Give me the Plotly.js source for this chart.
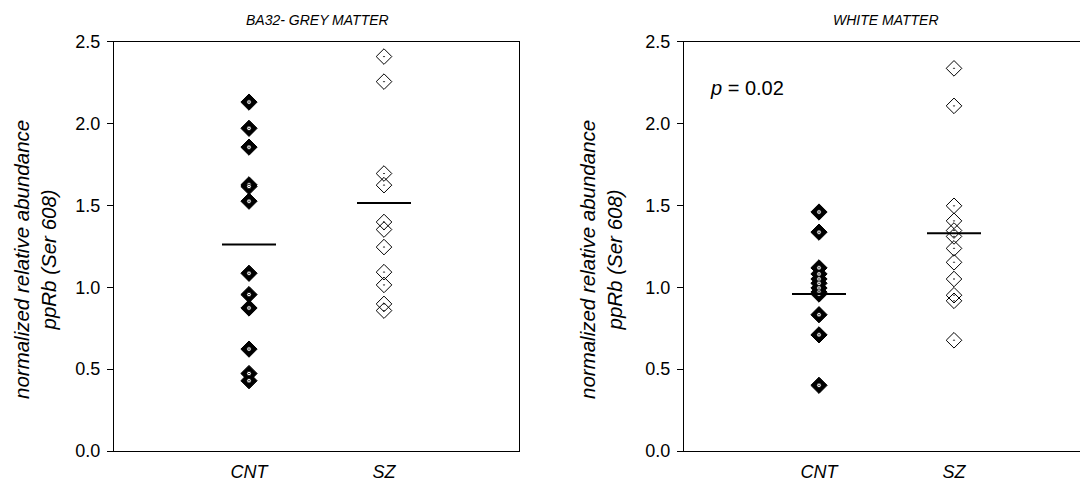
<!DOCTYPE html>
<html>
<head>
<meta charset="utf-8">
<script src="https://cdn.plot.ly/plotly-3.0.1.min.js"></script>
<style>
html,body{margin:0;padding:0;overflow:hidden;background:#fff;}
#chart{width:1100px;height:487px;}
</style>
</head>
<body>
<div id="chart"></div>
<script>
// ---- data ----
const categories = ["CNT", "SZ"];
const categoryPos = [1, 2];
const yTickVals = [0, 0.5, 1, 1.5, 2, 2.5];
const yTickText = ["0.0", "0.5", "1.0", "1.5", "2.0", "2.5"];

const greyCNT = [2.13, 1.97, 1.855, 1.625, 1.615, 1.525, 1.085, 0.955, 0.873, 0.622, 0.473, 0.429];
const greySZ  = [2.408, 2.255, 1.694, 1.623, 1.398, 1.352, 1.245, 1.092, 1.014, 0.898, 0.857];
const greyMeans = [1.261, 1.514];

const whiteCNT = [1.459, 1.336, 1.118, 1.081, 1.05, 1.024, 0.995, 0.97, 0.958, 0.832, 0.709, 0.401];
const whiteSZ  = [2.336, 2.107, 1.497, 1.405, 1.346, 1.31, 1.237, 1.152, 1.05, 0.951, 0.917, 0.676];
const whiteMeans = [0.958, 1.329];

const panelTitles = ["BA32- GREY MATTER", "WHITE MATTER"];
const yTitle = "normalized relative abundance<br>ppRb (Ser 608)";
const pText = "<i>p</i> = 0.02";

// ---- layout helpers ----
const W = 1100, H = 487;
const FONT = "Liberation Sans, Arial, Helvetica, sans-serif";
const px = v => v / W;
const py = v => (H - v) / H;
const plotTop = 41.5, plotBot = 451;

function rep(v, n) { return Array(n).fill(v); }

function panelTraces(cnt, sz, means, xa, ya) {
  const t = [];
  // CNT: filled black diamond with white centre dot
  t.push({x: rep(categoryPos[0], cnt.length), y: cnt, xaxis: xa, yaxis: ya, type: "scatter", mode: "markers",
          marker: {symbol: "diamond", size: 12.5, color: "#000", line: {color: "#000", width: 1}}, hoverinfo: "skip"});
  t.push({x: rep(categoryPos[0], cnt.length), y: cnt, xaxis: xa, yaxis: ya, type: "scatter", mode: "markers",
          marker: {symbol: "circle-dot", size: 4.5, color: "#fff", line: {color: "#000", width: 0.8}}, hoverinfo: "skip"});
  // SZ: open diamond with dot
  t.push({x: rep(categoryPos[1], sz.length), y: sz, xaxis: xa, yaxis: ya, type: "scatter", mode: "markers",
          marker: {symbol: "diamond-open-dot", size: 12, color: "#000", line: {color: "#000", width: 1}}, hoverinfo: "skip"});
  // mean lines
  for (let i = 0; i < means.length; i++) {
    t.push({x: [categoryPos[i] - 0.2, categoryPos[i] + 0.2], y: [means[i], means[i]], xaxis: xa, yaxis: ya,
            type: "scatter", mode: "lines", line: {color: "#000", width: 2}, hoverinfo: "skip"});
  }
  return t;
}

const data = [].concat(
  panelTraces(greyCNT, greySZ, greyMeans, "x", "y"),
  panelTraces(whiteCNT, whiteSZ, whiteMeans, "x2", "y2")
);

function xAxis(d0, d1, anchor) {
  return {domain: [px(d0), px(d1)], anchor: anchor, range: [0, 3], tickvals: categoryPos, ticktext: categories,
          showline: true, mirror: true, linecolor: "#000", linewidth: 1, ticks: "", showgrid: false, zeroline: false,
          tickfont: {family: FONT, size: 18, color: "#000", style: "italic"}, ticklabelstandoff: 4, fixedrange: true};
}
function yAxis(anchor) {
  return {domain: [py(plotBot), py(plotTop)], anchor: anchor, range: [0, 2.5], tickvals: yTickVals, ticktext: yTickText,
          showline: true, mirror: true, linecolor: "#000", linewidth: 1, ticks: "outside", ticklen: 6, tickcolor: "#000",
          showgrid: false, zeroline: false, ticklabelstandoff: 3,
          tickfont: {family: FONT, size: 18, color: "#000"}, fixedrange: true};
}

const layout = {
  width: W, height: H,
  margin: {l: 0, r: 0, t: 0, b: 0},
  paper_bgcolor: "#fff", plot_bgcolor: "#fff",
  showlegend: false,
  xaxis: xAxis(114, 519, "y"),
  yaxis: yAxis("x"),
  xaxis2: xAxis(684, 1089, "y2"),
  yaxis2: yAxis("x2"),
  annotations: [
    {text: "<i>" + panelTitles[0] + "</i>", xref: "paper", yref: "paper", x: px(317), y: py(20),
     xanchor: "center", yanchor: "middle", showarrow: false, font: {family: FONT, size: 14, color: "#000"}},
    {text: "<i>" + panelTitles[1] + "</i>", xref: "paper", yref: "paper", x: px(886), y: py(20),
     xanchor: "center", yanchor: "middle", showarrow: false, font: {family: FONT, size: 14, color: "#000"}},
    {text: "<i>" + yTitle + "</i>", xref: "paper", yref: "paper", x: px(35), y: py(260), textangle: -90,
     xanchor: "center", yanchor: "middle", showarrow: false, font: {family: FONT, size: 20.5, color: "#000"}},
    {text: "<i>" + yTitle + "</i>", xref: "paper", yref: "paper", x: px(601), y: py(260), textangle: -90,
     xanchor: "center", yanchor: "middle", showarrow: false, font: {family: FONT, size: 20.5, color: "#000"}},
    {text: pText, xref: "paper", yref: "paper", x: px(708), y: py(88),
     xanchor: "left", yanchor: "middle", showarrow: false, font: {family: FONT, size: 20, color: "#000"}}
  ]
};

Plotly.newPlot("chart", data, layout, {staticPlot: true, displayModeBar: false});
</script>
</body>
</html>
